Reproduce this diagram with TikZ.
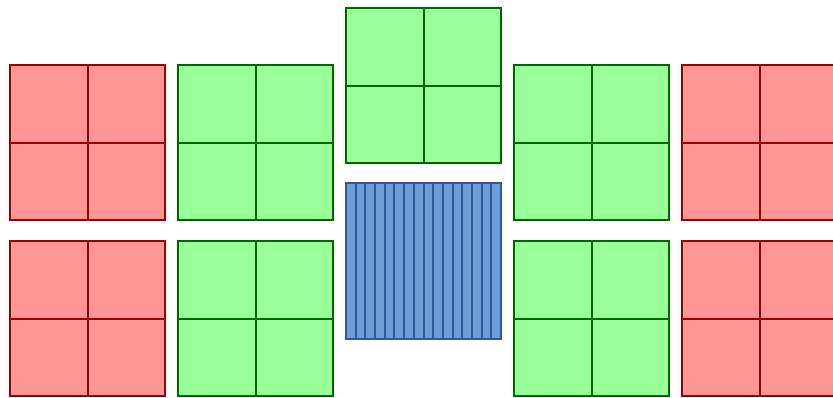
\documentclass[tikz,border=0pt]{standalone}
\definecolor{redfill}{HTML}{FF9696}
\definecolor{redline}{HTML}{990000}
\definecolor{greenfill}{HTML}{99FF99}
\definecolor{greenline}{HTML}{006600}
\definecolor{bluefill}{HTML}{6E9ED6}
\definecolor{blueline}{HTML}{2F5A9A}
\newcommand\quadsq[3]{%
  \fill[#3fill] (#1,#2) rectangle ++(155,155);
  \draw[#3line,line width=2pt] (#1+77.5,#2) -- ++(0,155);
  \draw[#3line,line width=2pt] (#1,#2+77.5) -- ++(155,0);
  \draw[#3line,line width=2pt] (#1,#2) rectangle ++(155,155);}
\begin{document}
\begin{tikzpicture}[x=1pt,y=-1pt]
\useasboundingbox (0,0) rectangle (833,397);
\clip (0,0) rectangle (833,397);
% red columns
\quadsq{10}{65}{red}
\quadsq{10}{241}{red}
\quadsq{682}{65}{red}
\quadsq{682}{241}{red}
% green columns
\quadsq{178}{65}{green}
\quadsq{178}{241}{green}
\quadsq{514}{65}{green}
\quadsq{514}{241}{green}
\quadsq{346}{8}{green}
% blue striped square
\fill[bluefill] (346,183) rectangle ++(155,156);
\foreach \i in {1,...,15}
  \draw[blueline,line width=2pt] (346+\i*155/16,183) -- ++(0,156);
\draw[blueline,line width=2pt] (346,183) rectangle ++(155,156);
\end{tikzpicture}
\end{document}
